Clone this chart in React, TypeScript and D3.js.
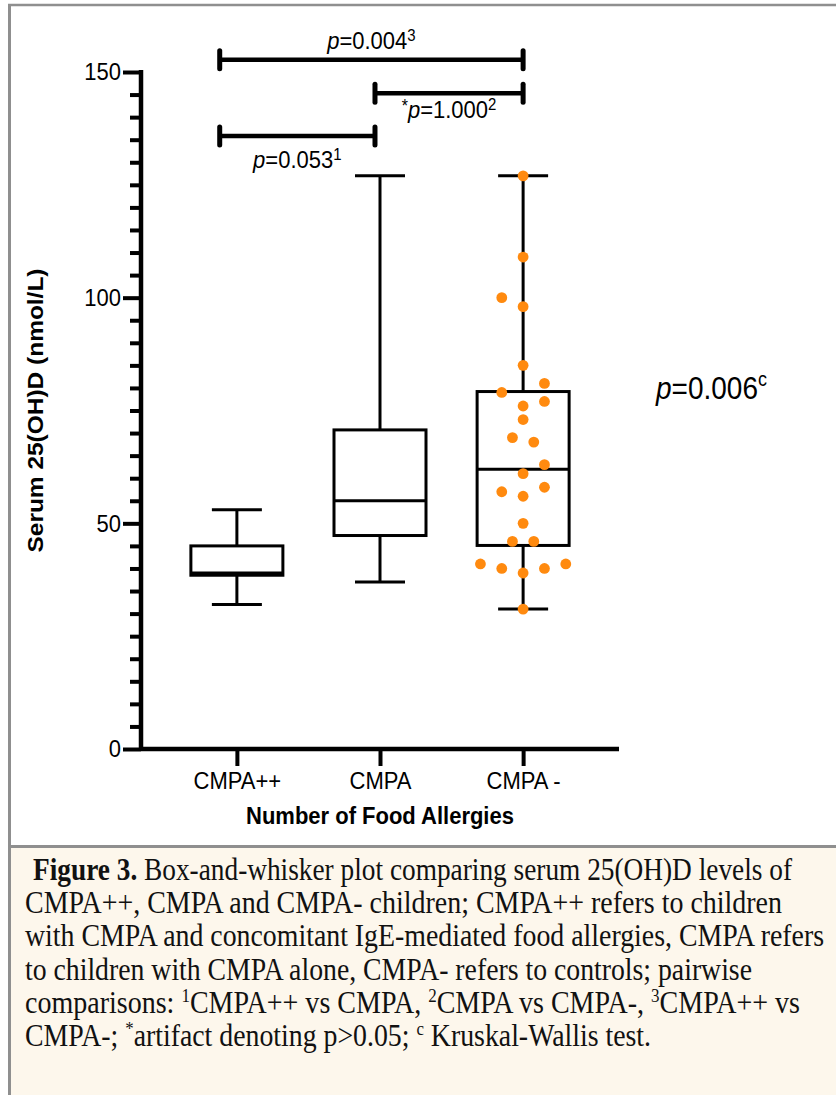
import React, { useEffect, useRef } from "react";
import { axisBottom, axisLeft, range, scaleLinear, scalePoint, select } from "d3";

// groups and box summaries
const groups = ["CMPA++", "CMPA", "CMPA -"];
const whiskerLow = [32, 37, 31];
const q1 = [38.5, 47.3, 45.1];
const medians = [39, 55, 62];
const q3 = [45, 70.7, 79.2];
const whiskerHigh = [53, 127, 127];

// individual CMPA - values and their swarm column (in dot widths)
const controlValues = [127, 109, 100, 98, 85, 81, 79, 77, 76, 73, 69, 68, 63, 61, 57, 58, 56, 50, 46, 46, 41, 40, 39, 40, 41, 31];
const controlSlots = [0, 0, -2, 0, 0, 2, -2, 2, 0, 0, -1, 1, 2, 0, -2, 2, 0, 0, -1, 1, -4, -2, 0, 2, 4, 0];

const yMajorTicks = [0, 50, 100, 150];

// pairwise comparison brackets (ends given as group index)
const bracketStart = [-0.12, 0.965, -0.12];
const bracketEnd = [2, 2, 0.965];
const bracketLevel = [152.7, 145.3, 135.8];
const bracketP = ["0.004", "1.000", "0.053"];
const bracketSup = ["3", "2", "1"];
const bracketStar = [false, true, false];

const overallP = "0.006";

const captionLines = [
  [{ t: "Figure 3.", b: true }, { t: " Box-and-whisker plot comparing serum 25(OH)D levels of" }],
  [{ t: "CMPA++, CMPA and CMPA- children; CMPA++ refers to children" }],
  [{ t: "with CMPA and concomitant IgE-mediated food allergies, CMPA refers" }],
  [{ t: "to children with CMPA alone, CMPA- refers to controls; pairwise" }],
  [
    { t: "comparisons: " }, { t: "1", sup: true }, { t: "CMPA++ vs CMPA, " }, { t: "2", sup: true },
    { t: "CMPA vs CMPA-, " }, { t: "3", sup: true }, { t: "CMPA++ vs" },
  ],
  [{ t: "CMPA-; " }, { t: "*", sup: true }, { t: "artifact denoting p>0.05; " }, { t: "c", sup: true }, { t: " Kruskal-Wallis test." }],
];

const W = 836;
const H = 1095;
const left = 141;
const right = 619;
const top = 72;
const bottom = 749;
const SANS = "'Liberation Sans', Arial, sans-serif";
const SERIF = "'Liberation Serif', 'Times New Roman', serif";
const DOT = "#FF8A0F";
const SY = 1.1; // the figure's text is a little taller than it is wide

const captionX = [33, 25, 25, 25, 25, 25];
const captionWidths = [759, 757, 799, 727, 775, 626];
const labelDy = [-11, 25, 32];

// stretch text vertically about its baseline
const stretch = (yb: number) => `translate(0,${yb}) scale(1,${SY}) translate(0,${-yb})`;

const App = () => {
  const yAxisRef = useRef<SVGGElement>(null);
  const yMinorRef = useRef<SVGGElement>(null);
  const xAxisRef = useRef<SVGGElement>(null);

  const y = scaleLinear().domain([0, 150]).range([bottom, top]);
  const x = scalePoint<string>().domain(groups).range([left, right]).padding(0.67);
  const xi = scaleLinear().domain([0, 2]).range([x(groups[0])!, x(groups[2])!]);
  const jitter = scaleLinear().domain([-1, 1]).range([-10.67, 10.67]);

  const boxW = 92;
  const capW = 50;

  useEffect(() => {
    // Y AXIS
    const yAxis = axisLeft(y).tickValues(yMajorTicks).tickSize(18).tickPadding(2);
    const gy = select(yAxisRef.current).call(yAxis);
    gy.select(".domain").remove();
    gy.attr("font-family", SANS).attr("font-size", 22);
    gy.selectAll(".tick line").attr("stroke-width", 4);
    gy.selectAll(".tick text").attr("fill", "#000").attr("transform", `scale(1,${SY})`);

    const minor = range(0, 151, 5).filter(v => v % 50 !== 0);
    const gm = select(yMinorRef.current).call(axisLeft(y).tickValues(minor).tickSize(11).tickFormat(() => ""));
    gm.select(".domain").remove();
    gm.selectAll(".tick line").attr("stroke-width", 4);

    // X AXIS
    const gx = select(xAxisRef.current).call(axisBottom(x).tickSize(17).tickPadding(7));
    gx.select(".domain").remove();
    gx.attr("font-family", SANS).attr("font-size", 22);
    gx.selectAll(".tick line").attr("stroke-width", 4);
    gx.selectAll(".tick text").attr("fill", "#000").attr("transform", stretch(40));
  }, []);

  return (
    <div style={{ position: "absolute", left: 0, top: 0 }}>
      <svg width={W} height={H} style={{ display: "block" }}>
        <rect x={0} y={0} width={W} height={H} fill="#fff" />

        {/* frame */}
        <rect x={11} y={848} width={W - 11} height={H - 848} fill="#FDF7EC" />
        <line x1={8} x2={W} y1={5} y2={5} stroke="#8f8f8f" strokeWidth={2.5} />
        <line x1={9.5} x2={9.5} y1={4} y2={H} stroke="#8f8f8f" strokeWidth={3} />
        <line x1={9} x2={W} y1={846.5} y2={846.5} stroke="#8f8f8f" strokeWidth={3} />

        {/* axes */}
        <g ref={yMinorRef} transform={`translate(${left},0)`} />
        <g ref={yAxisRef} transform={`translate(${left},0)`} />
        <g ref={xAxisRef} transform={`translate(0,${bottom})`} />
        <line x1={left} x2={left} y1={top - 2} y2={bottom + 2} stroke="#000" strokeWidth={4.5} />
        <line x1={left} x2={right} y1={bottom} y2={bottom} stroke="#000" strokeWidth={4.5} />

        <text
          transform={`translate(43,${(top + bottom) / 2}) rotate(-90)`}
          textAnchor="middle"
          fontFamily={SANS}
          fontWeight="bold"
          fontSize={22}
          textLength={284}
          lengthAdjust="spacingAndGlyphs"
        >
          Serum 25(OH)D (nmol/L)
        </text>
        <text
          x={(left + right) / 2}
          y={824}
          textAnchor="middle"
          fontFamily={SANS}
          fontWeight="bold"
          fontSize={22}
          transform={stretch(824)}
        >
          Number of Food Allergies
        </text>

        {/* boxes */}
        {groups.map((g, i) => {
          const cx = x(g)!;
          return (
            <g key={g} stroke="#000" strokeWidth={3} fill="none">
              <line x1={cx} x2={cx} y1={y(q3[i])} y2={y(whiskerHigh[i])} />
              <line x1={cx} x2={cx} y1={y(q1[i])} y2={y(whiskerLow[i])} />
              <line x1={cx - capW / 2} x2={cx + capW / 2} y1={y(whiskerHigh[i])} y2={y(whiskerHigh[i])} />
              <line x1={cx - capW / 2} x2={cx + capW / 2} y1={y(whiskerLow[i])} y2={y(whiskerLow[i])} />
              <rect x={cx - boxW / 2} y={y(q3[i])} width={boxW} height={y(q1[i]) - y(q3[i])} />
              <line x1={cx - boxW / 2} x2={cx + boxW / 2} y1={y(medians[i])} y2={y(medians[i])} />
            </g>
          );
        })}

        {/* control points */}
        {controlValues.map((v, i) => (
          <circle key={i} cx={x(groups[2])! + jitter(controlSlots[i])} cy={y(v)} r={5.4} fill={DOT} />
        ))}

        {/* brackets */}
        {bracketP.map((p, i) => {
          const x1 = xi(bracketStart[i]);
          const x2 = xi(bracketEnd[i]);
          const by = y(bracketLevel[i]);
          const ty = by + labelDy[i];
          return (
            <g key={i}>
              <line x1={x1} x2={x2} y1={by} y2={by} stroke="#000" strokeWidth={4.5} />
              <line x1={x1} x2={x1} y1={by - 9} y2={by + 9} stroke="#000" strokeWidth={5} strokeLinecap="round" />
              <line x1={x2} x2={x2} y1={by - 9} y2={by + 9} stroke="#000" strokeWidth={5} strokeLinecap="round" />
              <text
                x={(x1 + x2) / 2}
                y={ty}
                textAnchor="middle"
                fontFamily={SANS}
                fontSize={22}
                transform={stretch(ty)}
              >
                {bracketStar[i] && (
                  <tspan fontSize={16} dy={-6}>
                    *
                  </tspan>
                )}
                <tspan fontStyle="italic" dy={bracketStar[i] ? 6 : 0}>
                  p
                </tspan>
                <tspan>={p}</tspan>
                <tspan fontSize={15} dy={-7}>
                  {bracketSup[i]}
                </tspan>
              </text>
            </g>
          );
        })}

        <text x={656} y={399} fontFamily={SANS} fontSize={28} transform={stretch(399)}>
          <tspan fontStyle="italic">p</tspan>
          <tspan>={overallP}</tspan>
          <tspan fontSize={18} dy={-12}>
            c
          </tspan>
        </text>

        {/* caption */}
        {captionLines.map((segs, i) => {
          const ty = 880 + i * 33.2;
          return (
            <text
              key={i}
              x={captionX[i]}
              y={ty}
              fontFamily={SERIF}
              fontSize={28}
              fill="#111"
              textLength={captionWidths[i]}
              lengthAdjust="spacingAndGlyphs"
              transform={stretch(ty)}
            >
              {segs.map((s: any, j) => {
                const prevSup = j > 0 && (segs[j - 1] as any).sup;
                return (
                  <tspan
                    key={j}
                    fontWeight={s.b ? "bold" : undefined}
                    fontSize={s.sup ? 17 : undefined}
                    dy={s.sup ? -10 : prevSup ? 10 : undefined}
                  >
                    {s.t}
                  </tspan>
                );
              })}
            </text>
          );
        })}
      </svg>
    </div>
  );
};

export default App;
